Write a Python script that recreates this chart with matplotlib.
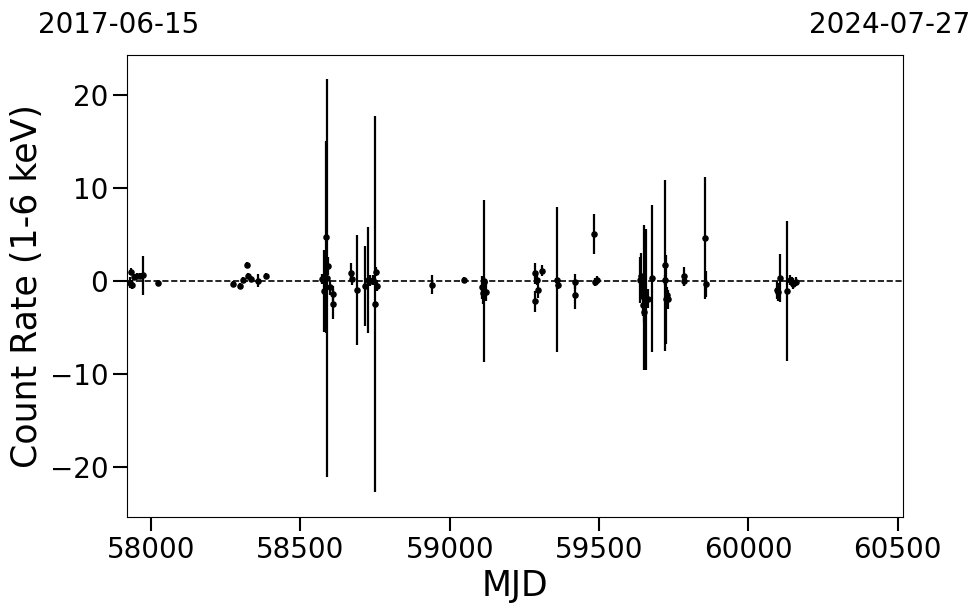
import matplotlib
matplotlib.use("Agg")
import matplotlib.pyplot as plt

# light curve values (MJD, count rate, error)
mjd = [57929, 57932, 57936, 57942, 57952, 57962, 57973, 58023,
       58274, 58297, 58307, 58321, 58323, 58334, 58358, 58384,
       58572, 58579, 58585, 58589, 58592, 58599, 58609, 58609,
       58668, 58671, 58688, 58716, 58727, 58733, 58742, 58748, 58752, 58756,
       58940, 59049, 59107, 59112, 59114, 59115, 59121,
       59285, 59285, 59291, 59296, 59310,
       59360, 59362, 59421, 59421, 59484, 59486, 59492,
       59637, 59640, 59646, 59648, 59650, 59652, 59657, 59665, 59676,
       59721, 59722, 59723, 59729, 59732, 59784, 59786, 59855, 59858,
       60097, 60101, 60106, 60130, 60139, 60145, 60150, 60159]
rate = [-0.2, 1.0, -0.4, 0.4, 0.5, 0.5, 0.6, -0.2,
        -0.3, -0.5, 0.1, 1.7, 0.5, 0.2, 0.0, 0.5,
        0.2, -1.1, 4.7, 0.3, 1.6, -0.7, -1.4, -2.5,
        0.9, 0.2, -1.0, -0.6, 0.1, 0.0, 0.1, -2.5, 1.0, -0.5,
        -0.4, 0.1, -0.7, -1.3, 0.0, -0.1, -1.2,
        0.8, -2.2, 0.1, -1.0, 1.1,
        0.1, -0.4, -0.1, -1.5, 5.05, -0.1, 0.1,
        0.1, 0.5, -1.0, -2.6, -1.8, -3.4, -2.0, -1.9, 0.3,
        1.7, 0.1, -2.0, -1.5, -2.0, 0.5, 0.0, 4.6, -0.3,
        -1.0, -1.2, 0.3, -1.1, 0.1, -0.1, -0.3, -0.1]
err = [0.6, 0.4, 0.5, 0.3, 0.3, 0.3, 2.1, 0.3,
       0.3, 0.3, 0.3, 0.3, 0.3, 0.3, 0.7, 0.3,
       0.5, 4.4, 10.3, 21.4, 1.0, 0.8, 0.8, 1.6,
       1.0, 0.6, 5.9, 4.3, 5.7, 0.6, 0.5, 20.2, 0.5, 0.6,
       1.0, 0.3, 1.2, 1.2, 8.7, 0.5, 1.0,
       1.1, 1.1, 0.5, 0.8, 0.6,
       7.8, 0.5, 0.8, 1.5, 2.15, 0.4, 0.4,
       2.5, 2.5, 1.0, 1.2, 7.8, 1.0, 7.6, 1.0, 7.9,
       9.2, 0.5, 4.8, 0.8, 1.0, 1.0, 0.5, 6.6, 1.4,
       1.0, 1.0, 2.6, 7.5, 0.5, 0.5, 0.6, 0.5]

x_min, x_max = 57919, 60518
date_left = "2017-06-15"
date_right = "2024-07-27"

fig = plt.figure(figsize=(9.8, 6.13), dpi=100)
ax = fig.add_axes([0.1296, 0.1566, 0.7918, 0.7537])

ax.errorbar(mjd, rate, yerr=err, fmt="o", color="black", ms=3.7,
            elinewidth=1.6, capsize=0)
ax.axhline(0, color="black", linestyle="--", linewidth=1.2)

ax.set_xlim(x_min, x_max)
ax.set_ylim(-25.4, 24.3)
ax.set_xticks([58000, 58500, 59000, 59500, 60000, 60500])
ax.set_yticks([-20, -10, 0, 10, 20])
ax.tick_params(axis="both", which="major", labelsize=20, length=10, width=1.5)
ax.set_xlabel("MJD", fontsize=25)
ax.set_ylabel("Count Rate (1-6 keV)", fontsize=25)

fig.text(38 / 980, 1 - 33 / 613, date_left, fontsize=20, ha="left", va="baseline")
fig.text(970 / 980, 1 - 33 / 613, date_right, fontsize=20, ha="right", va="baseline")

plt.savefig("out.png", dpi=100)
